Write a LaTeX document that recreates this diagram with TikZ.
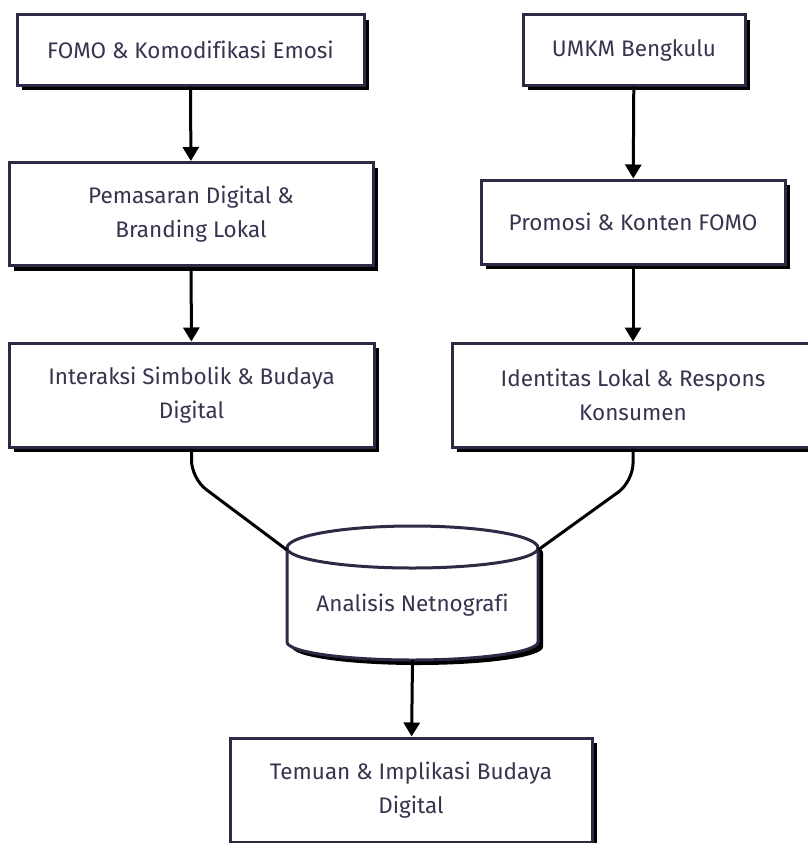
\documentclass[tikz,border=0pt]{standalone}
\usepackage{fontspec}
\setmainfont[Ligatures=NoCommon]{Fira Sans}
\usetikzlibrary{arrows.meta,shadows}
\definecolor{edge}{HTML}{2B2B45}
\definecolor{ink}{HTML}{35354F}
\tikzset{
  box/.style={draw=edge, line width=3pt, fill=white, text=ink, align=center,
    font=\fontsize{22.5}{34}\selectfont,
    drop shadow={shadow xshift=5pt, shadow yshift=-5pt, fill=black, opacity=1}},
  flow/.style={line width=3pt, -{Triangle[width=16pt,length=14pt]}},
  link/.style={line width=3pt, rounded corners=18pt}
}
\begin{document}
\begin{tikzpicture}[x=1pt,y=-1pt]
\useasboundingbox (0,0) rectangle (807,843);
\node[box, minimum width=347pt, minimum height=70pt] (fomo) at (190.5,50) {FOMO \& Komodifikasi Emosi};
\node[box, minimum width=364pt, minimum height=103pt] (pemasaran) at (191,214) {Pemasaran Digital \&\\Branding Lokal};
\node[box, minimum width=365pt, minimum height=104pt] (interaksi) at (191.5,395) {Interaksi Simbolik \& Budaya\\Digital};
\node[box, minimum width=222pt, minimum height=70pt] (umkm) at (634,50) {UMKM Bengkulu};
\node[box, minimum width=304pt, minimum height=84pt] (promosi) at (633,222) {Promosi \& Konten FOMO};
\node[box, minimum width=362pt, minimum height=104pt] (identitas) at (633,395) {Identitas Lokal \& Respons\\Konsumen};
\node[box, minimum width=362pt, minimum height=104pt] (temuan) at (411,790) {Temuan \& Implikasi Budaya\\Digital};
\draw[flow] (fomo) -- (pemasaran);
\draw[flow] (pemasaran) -- (interaksi);
\draw[flow] (umkm) -- (promosi);
\draw[flow] (promosi) -- (identitas);
% cylinder
\fill[black, shift={(5,5)}] (287,548) -- (287,642) arc (180:0:125.5 and 18) -- (538,548) arc (0:-180:125.5 and 22) -- cycle;
\filldraw[draw=edge, fill=white, line width=3pt] (287,548) -- (287,642) arc (180:0:125.5 and 18) -- (538,548) arc (0:-180:125.5 and 22) -- cycle;
\draw[edge, line width=3pt] (287,548) arc (180:0:125.5 and 20);
\node[minimum width=251pt, minimum height=134pt] (analisis) at (412.5,593) {};
\node[text=ink, font=\fontsize{22.5}{34}\selectfont] (analisislbl) at (412.5,605) {Analisis Netnografi};
\coordinate (kiri) at (287,550);
\coordinate (kanan) at (538,550);
\draw[link] (interaksi.south) -- ++(0,30) -- (kiri);
\draw[link] (identitas.south) -- ++(0,33) -- (kanan);
\draw[flow] (analisis.south) -- (temuan);
\end{tikzpicture}
\end{document}
